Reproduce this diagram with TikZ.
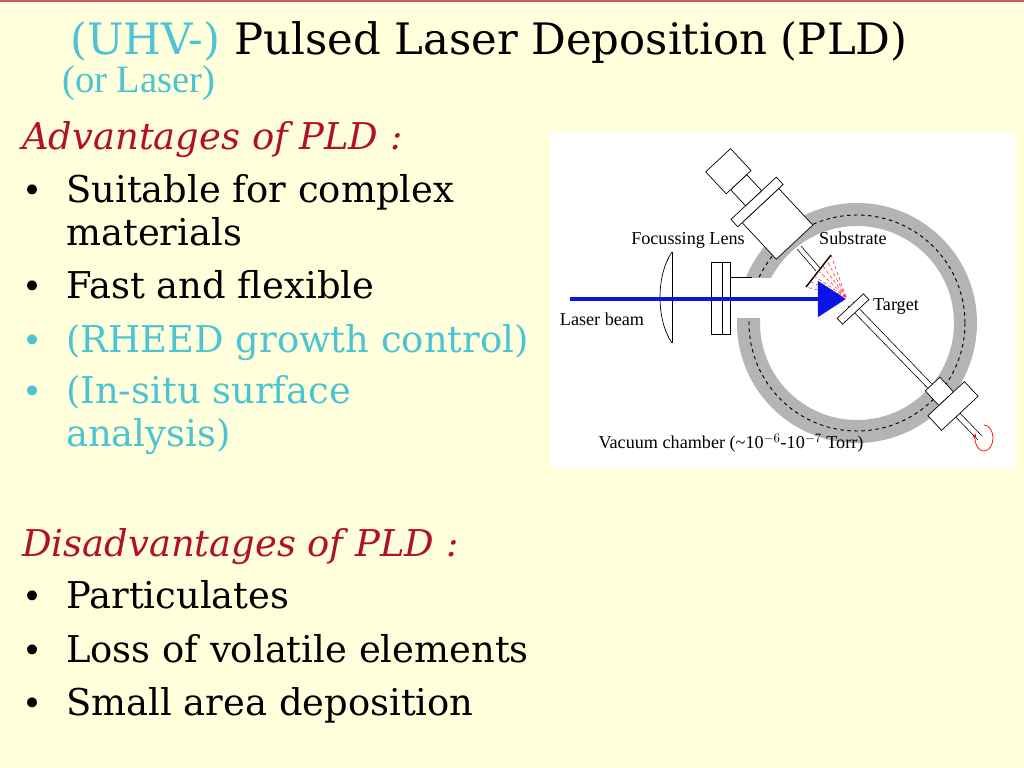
\documentclass[tikz,border=0pt]{standalone}
\usepackage{fontspec}
\setmainfont{DejaVu Serif}
\newfontfamily\labelfont{Liberation Serif}
\usetikzlibrary{arrows.meta, calc}
\definecolor{bgyellow}{HTML}{FFFFDC}
\definecolor{uhvcyan}{HTML}{4CC4D4}
\definecolor{headred}{HTML}{B0102A}
\definecolor{laserblue}{HTML}{0A14E6}
\definecolor{ringgray}{HTML}{B4B4B4}
\tikzset{
  line/.style={anchor=base west, font=\fontsize{31.5}{34}\selectfont},
  head/.style={anchor=base west, font=\fontsize{31.5}{34}\selectfont\itshape, text=headred},
  dot/.style={anchor=base west, font=\fontsize{29}{34}\selectfont},
  lbl/.style={font=\labelfont\fontsize{15.5}{17}\selectfont, inner sep=0pt},
  part/.style={draw, fill=white, line width=0.6pt}
}
\begin{document}
\begin{tikzpicture}[x=0.03cm, y=-0.03cm]
    % background and frame
    \fill[bgyellow] (0,0) rectangle (1024,768);
    \useasboundingbox (0,0) rectangle (1024,768);
    \draw[headred!70, line width=1pt] (0,1) -- (1024,1);

    % title
    \node[anchor=base west, font=\fontsize{37}{40}\selectfont, inner sep=0pt] (title) at (70,55)
        {\textcolor{uhvcyan}{(UHV-)} Pulsed Laser Deposition (PLD)};
    \node[anchor=base west, font=\labelfont\fontsize{33}{36}\selectfont, text=uhvcyan, inner sep=0pt] (orlaser) at (62,93) {(or Laser)};

    % advantages
    \node[head, inner sep=0pt] (adv) at (22,150) {Advantages of PLD :};
    \foreach \y/\t/\c [count=\i] in {203/Suitable for complex/black, 246/materials/black,
        299/Fast and flexible/black, 353/(RHEED growth control)/uhvcyan,
        404/(In-situ surface/uhvcyan, 447/analysis)/uhvcyan} {
        \node[line, inner sep=0pt, text=\c] (a\i) at (66,\y) {\t};
    }
    \foreach \y/\c in {203/black, 299/black, 353/uhvcyan, 404/uhvcyan} {
        \node[dot, inner sep=0pt, text=\c] at (22,\y) {\textbullet};
    }

    % disadvantages
    \node[head, inner sep=0pt] (dis) at (22,557) {Disadvantages of PLD :};
    \foreach \y/\t [count=\i] in {609/Particulates, 662/Loss of volatile elements, 715/Small area deposition} {
        \node[line, inner sep=0pt] (d\i) at (66,\y) {\t};
        \node[dot, inner sep=0pt] at (22,\y) {\textbullet};
    }

    % PLD sketch
    \fill[white] (550,133) rectangle (1015,468);
    % chamber ring
    \fill[ringgray, even odd rule] (857,323) circle (120) (857,323) circle (97);
    \draw[dashed, line width=0.8pt] (857,323) circle (108);
    \fill[white] (735,278) rectangle (790,318);
    \draw[line width=0.7pt] (730,277) -- (752,277);
    % upper arm with substrate holder
    \draw[line width=0.5pt] (816,271) -- (797,249);
    \draw[line width=0.5pt] (820,268) -- (801,246);
    \begin{scope}[shift={(800,248)}, rotate=133]
        \draw[part] (8,-25) rectangle (58,25);
        \draw[part] (58,-31) rectangle (68,31);
        \draw[part] (68,-11) rectangle (90,11);
        \draw[part] (90,-17) rectangle (120,17);
    \end{scope}
    \draw[line width=1.2pt] (806,287) -- (831,255);
    % plume
    \foreach \a in {0,...,6} {
        \draw[red!80, densely dashed, line width=0.5pt] (846,297) -- ($(806,287)!\a/6!(831,255)$);
    }
    % lower arm with target
    \draw[line width=0.5pt] (848,306) -- (978,440);
    \draw[line width=0.5pt] (853,302) -- (982,436);
    \begin{scope}[shift={(853,309)}, rotate=-47]
        \draw[part] (-4,-18) rectangle (4,18);
    \end{scope}
    \begin{scope}[shift={(953,406)}, rotate=-47]
        \draw[part] (-30,-10) rectangle (-10,10);
        \draw[part] (-10,-25) rectangle (10,25);
    \end{scope}
    \draw[red, line width=0.6pt, -{Stealth[length=4pt]}] (984,425) arc (-90:200:9 and 13);
    % lens and window
    \draw[line width=0.6pt] (672,252) .. controls (656,275) and (656,320) .. (672,343);
    \draw[line width=0.6pt] (672,252) -- (672,343);
    \draw[part] (711,262) rectangle (722,334);
    \draw[part] (722,262) rectangle (730,334);
    % laser beam
    \draw[laserblue, line width=4pt, -{Triangle[length=24pt, width=30pt]}] (570,299) -- (846,299);
    % labels
    \node[lbl] (lens) at (688,240) {Focussing Lens};
    \node[lbl] (sub) at (853,238) {Substrate};
    \node[lbl] (tgt) at (896,307) {Target};
    \node[lbl] (beam) at (602,319) {Laser beam};
    \node[lbl] (vac) at (731,443) {Vacuum chamber (\textasciitilde10$^{-6}$-10$^{-7}$ Torr)};
\end{tikzpicture}
\end{document}
